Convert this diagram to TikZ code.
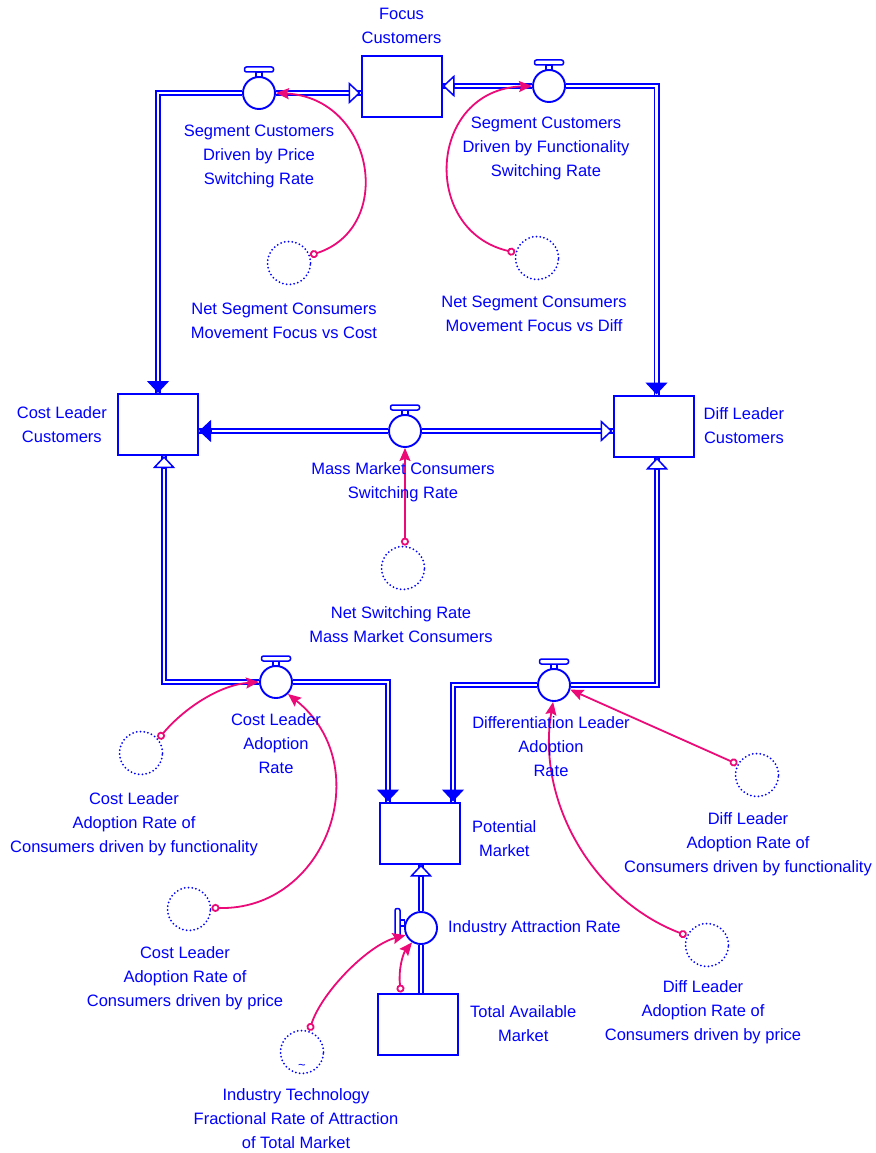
\documentclass[tikz,border=0pt]{standalone}
\usepackage{fontspec}
\setmainfont{Liberation Sans}
\usetikzlibrary{arrows.meta,positioning,calc}
\definecolor{vblue}{RGB}{0,0,255}
\definecolor{linkpink}{RGB}{235,10,120}

\tikzset{
  stock/.style={draw=vblue,line width=2pt,minimum width=80pt,minimum height=61pt,inner sep=0pt},
  valve/.style={draw=vblue,line width=1.9pt,circle,minimum size=32pt,inner sep=0pt},
  aux/.style={draw=vblue,line width=2pt,circle,minimum size=43pt,inner sep=0pt,dash pattern=on 0pt off 3.8pt,line cap=round},
  lbl/.style={text=vblue,align=center,inner sep=0pt,font=\fontsize{16.5}{24}\selectfont},
  pipe/.style={draw=vblue,line width=1.8pt,double=white,double distance=2.4pt},
  fhead/.style={vblue,line width=1.5pt,-{Triangle[length=12pt,width=22pt]}},
  ohead/.style={vblue,line width=1.5pt,-{Triangle[length=12pt,width=22pt,fill=white]}},
  infl/.style={linkpink,line width=1.8pt,{Circle[open,length=8pt]}-{Stealth[length=13pt,width=11pt,inset=2pt]}},
  tap/.pic={
    \draw[vblue,line width=1.5pt,fill=white] (-3,-21) rectangle (3,-16.5);
    \draw[vblue,line width=1.5pt,fill=white,rounded corners=2pt] (-14.5,-26) rectangle (14.5,-21);
  }
}

\begin{document}
\begin{tikzpicture}[x=1pt,y=-1pt]
\useasboundingbox (0,0) rectangle (875,1153);

\def\stocks{Focus/401.5/87,CL/158/424.5,DL/653.5/426,PM/420/833,TAM/418/1024}
\foreach \nm/\x/\y in \stocks
  \node[stock] (\nm) at (\x,\y) {};

\def\valves{vP/259/93,vF/549/86,vM/405/431,vC/276/682,vD/554/685,vI/421/928}
\foreach \nm/\x/\y in \valves
  \node[valve] (\nm) at (\x,\y) {};
\foreach \nm in {vP,vF,vM,vC,vD}
  \pic at (\nm.center) {tap};
\pic[rotate=90] at ([yshift=5pt]vI.center) {tap};

\def\auxs{aNSC/289/263,aNSD/537/258,aNSR/403/568,aCF/141/753,aCP/189/909,aDF/757/775,aDP/707/945,aIT/302/1052}
\foreach \nm/\x/\y in \auxs
  \node[aux] (\nm) at (\x,\y) {};
\node[lbl,font=\fontsize{13}{13}\selectfont] (tIT) at ([yshift=8pt]aIT.south) {\textasciitilde};

% pipes
\coordinate (fA) at (Focus.west |- vP.east);
\coordinate (fB) at (Focus.east |- vF.west);
\coordinate (cl1) at (CL.north);
\coordinate (cl2) at (vM.west -| CL.east);
\coordinate (cl3) at ([xshift=6pt]CL.south);
\coordinate (dl1) at ([xshift=3pt]DL.north);
\coordinate (dl2) at (vM.east -| DL.west);
\coordinate (dl3) at ([xshift=3.5pt]DL.south);
\coordinate (pm1) at ([xshift=-32pt]PM.north);
\coordinate (pm2) at ([xshift=33pt]PM.north);
\coordinate (pm3) at (vI.north |- PM.south);
\coordinate (tam1) at (vI.south |- TAM.north);

\draw[pipe] (vP.east) -- (fA);
\draw[pipe] (vP.west) -| (cl1);
\draw[pipe] (vF.west) -- (fB);
\draw[pipe] (vF.east) -| (dl1);
\draw[pipe] (vM.west) -- (cl2);
\draw[pipe] (vM.east) -- (dl2);
\draw[pipe] (vC.west) -| (cl3);
\draw[pipe] (vC.east) -| (pm1);
\draw[pipe] (vD.east) -| (dl3);
\draw[pipe] (vD.west) -| (pm2);
\draw[pipe] (vI.north) -- (pm3);
\draw[pipe] (vI.south) -- (tam1);

\draw[ohead] (fA) ++(-12,0) -- (fA);
\draw[fhead] (cl1) ++(0,-12) -- (cl1);
\draw[ohead] (fB) ++(12,0) -- (fB);
\draw[fhead] (dl1) ++(0,-12) -- (dl1);
\draw[fhead] (cl2) ++(12,0) -- (cl2);
\draw[ohead] (dl2) ++(-12,0) -- (dl2);
\draw[ohead] (cl3) ++(0,12) -- (cl3);
\draw[fhead] (pm1) ++(0,-12) -- (pm1);
\draw[ohead] (dl3) ++(0,12) -- (dl3);
\draw[fhead] (pm2) ++(0,-12) -- (pm2);
\draw[ohead] (pm3) ++(0,12) -- (pm3);

% links
\draw[infl] (aNSC.20) .. controls +(86,-28) and +(98,5) .. (vP.east);
\draw[infl] (aNSD.166) .. controls +(-95,-22) and +(-104,4) .. (vF.west);
\draw[infl] (aNSR.85) -- (vM.south);
\draw[infl] (aCF.39) .. controls +(25,-30) and +(-40,3) .. (vC.west);
\draw[infl] (aCP.3) .. controls +(115,3) and +(90,72) .. (vC.-45);
\draw[infl] (aDF.151) -- (vD.-16);
\draw[infl] (aDP.155) .. controls +(-94,-36) and +(-17,99) .. (vD.-93);
\draw[infl] (aIT.71) .. controls +(12,-38) and +(-38,10) .. (vI.205);
\draw[infl] ([xshift=-17pt]TAM.north) .. controls +(-3,-22) and +(-9,11) .. (vI.238);

% labels
\node[lbl,above=12pt of Focus] (lFocus) {Focus\\Customers};
\node[lbl,left=10pt of CL] (lCL) {Cost Leader\\Customers};
\node[lbl,right=9pt of DL] (lDL) {Diff Leader\\Customers};
\node[lbl,right=11pt of PM,yshift=-6pt] (lPM) {Potential\\Market};
\node[lbl,right=10pt of vI] (lvI) {Industry Attraction Rate};
\node[lbl,right=11pt of TAM] (lTAM) {Total Available\\Market};

\foreach \nm/\tgt/\gap/\dx/\txt in {
  lvP/vP/14.5/0/{Segment Customers\\Driven by Price\\Switching Rate},
  lvF/vF/13.5/-3/{Segment Customers\\Driven by Functionality\\Switching Rate},
  laNSC/aNSC/17/-5/{Net Segment Consumers\\Movement Focus vs Cost},
  laNSD/aNSD/15/-3/{Net Segment Consumers\\Movement Focus vs Diff},
  lvM/vM/14.5/-2/{Mass Market Consumers\\Switching Rate},
  laNSR/aNSR/16/-2/{Net Switching Rate\\Mass Market Consumers},
  lvC/vC/14.5/0/{Cost Leader\\Adoption\\Rate},
  lvD/vD/14.5/-3/{Differentiation Leader\\Adoption\\Rate},
  laCF/aCF/17/-7/{Cost Leader\\Adoption Rate of\\Consumers driven by functionality},
  laCP/aCP/15/-4/{Cost Leader\\Adoption Rate of\\Consumers driven by price},
  laDF/aDF/15/-9/{Diff Leader\\Adoption Rate of\\Consumers driven by functionality},
  laDP/aDP/13/-4/{Diff Leader\\Adoption Rate of\\Consumers driven by price},
  laIT/aIT/14/-6/{Industry Technology\\Fractional Rate of Attraction\\of Total Market}}
  \node[lbl,below=\gap pt of \tgt,xshift=\dx pt] (\nm) {\txt};

\end{tikzpicture}
\end{document}
